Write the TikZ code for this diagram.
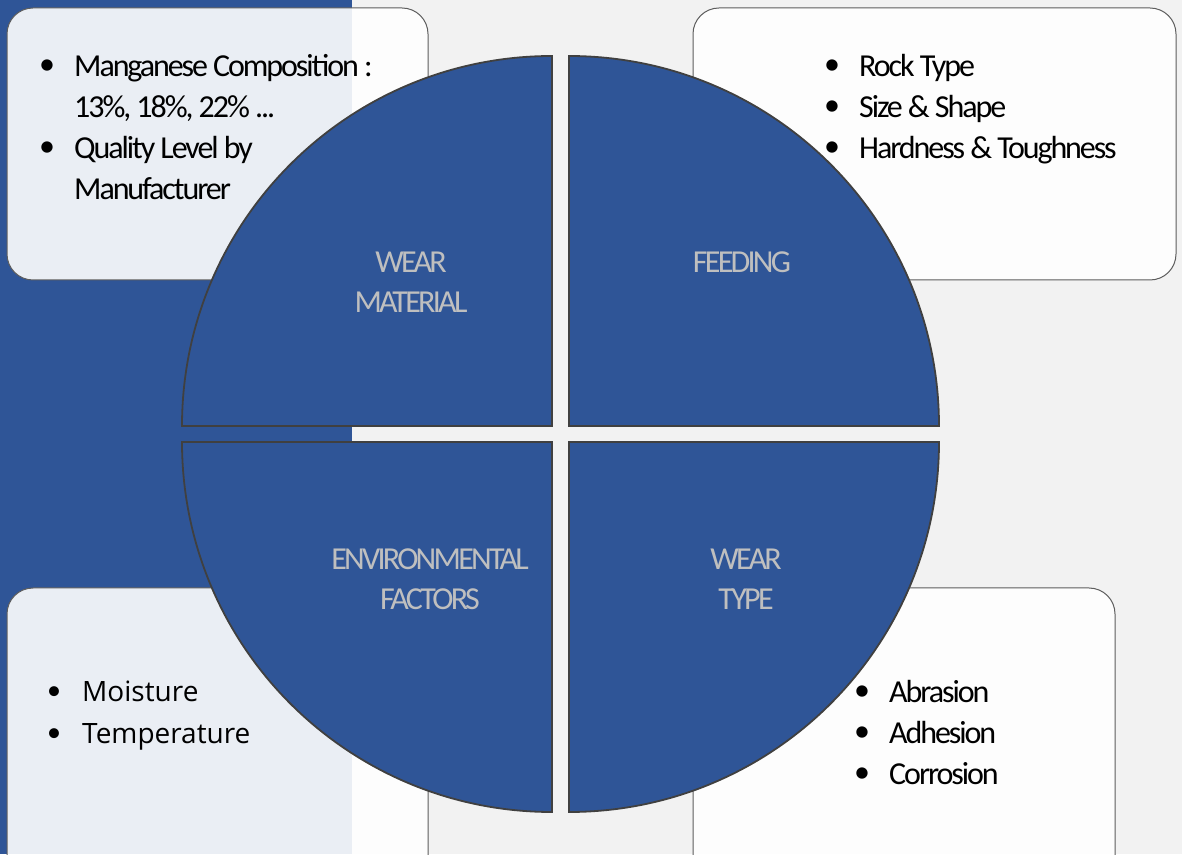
\documentclass[tikz,border=0pt]{standalone}
\usepackage{fontspec}
\setmainfont{Carlito}
\newfontfamily\listfont[LetterSpace=-6.5]{Carlito}
\newfontfamily\labelfont[LetterSpace=-8.5]{Carlito}
\newfontfamily\envfont{Open Sans}
\definecolor{quadblue}{HTML}{2F5597}
\definecolor{panelgray}{HTML}{F2F2F2}
\definecolor{labelgray}{HTML}{BFBFBF}
\definecolor{rimgray}{HTML}{404040}
\newcommand{\blt}{\makebox[35pt][l]{\raisebox{2pt}{\listfont\textbullet}}}
\tikzset{
	infobox/.style={draw=rimgray!85, line width=1pt, fill=white, fill opacity=0.9, rounded corners=26pt},
	quadrant/.style={draw=rimgray, line width=1.8pt, fill=quadblue},
	quadlabel/.style={text=labelgray, inner sep=0pt, anchor=base, font=\labelfont\fontsize{32}{40}\selectfont},
	itemlist/.style={inner sep=0pt, anchor=base west, font=\listfont\fontsize{32}{41}\selectfont},
}
\begin{document}
\begin{tikzpicture}[x=1pt,y=1pt]
	\useasboundingbox (0,0) rectangle (1182,854);
	\clip (0,0) rectangle (1182,854);
	\fill[panelgray] (0,0) rectangle (1182,854);
	\fill[quadblue]  (0,0) rectangle (352,854);

	% boxes behind the circle
	\draw[infobox] (7,574)   rectangle (428,846);
	\draw[infobox] (693,574) rectangle (1176,846);
	\draw[infobox] (7,-30)   rectangle (428,266);
	\draw[infobox] (693,-30) rectangle (1115,266);

	% four quarters of the circle
	\draw[quadrant] (552,428) -- (182,428) arc[start angle=180, end angle=90,  radius=370] -- cycle;
	\draw[quadrant] (569,428) -- (569,798) arc[start angle=90,  end angle=0,   radius=370] -- cycle;
	\draw[quadrant] (552,412) -- (182,412) arc[start angle=180, end angle=270, radius=370] -- cycle;
	\draw[quadrant] (569,412) -- (939,412) arc[start angle=0,   end angle=-90, radius=370] -- cycle;

	\node[quadlabel] (material) at (411,581) {\begin{tabular}[t]{@{}c@{}}WEAR\\MATERIAL\end{tabular}};
	\node[quadlabel] (feeding)  at (742,581) {FEEDING};
	\node[quadlabel] (environ)  at (430,284) {\begin{tabular}[t]{@{}c@{}}ENVIRONMENTAL\\FACTORS\end{tabular}};
	\node[quadlabel] (weartype) at (746,284) {\begin{tabular}[t]{@{}c@{}}WEAR\\TYPE\end{tabular}};

	\node[itemlist] (materiallist) at (39,777) {\begin{tabular}[t]{@{}l@{}}\blt Manganese Composition :\\ \hspace*{35pt}13\%, 18\%, 22\% ...\\ \blt Quality Level by\\ \hspace*{35pt}Manufacturer\end{tabular}};
	\node[itemlist] (feedinglist)  at (824,777) {\begin{tabular}[t]{@{}l@{}}\blt Rock Type\\ \blt Size \& Shape\\ \blt Hardness \& Toughness\end{tabular}};
	\node[itemlist, font=\envfont\fontsize{28}{42}\selectfont] (envlist) at (47,153) {\begin{tabular}[t]{@{}l@{}}\blt Moisture\\ \blt Temperature\end{tabular}};
	\node[itemlist] (typelist)     at (854,152) {\begin{tabular}[t]{@{}l@{}}\blt Abrasion\\ \blt Adhesion\\ \blt Corrosion\end{tabular}};
\end{tikzpicture}
\end{document}
